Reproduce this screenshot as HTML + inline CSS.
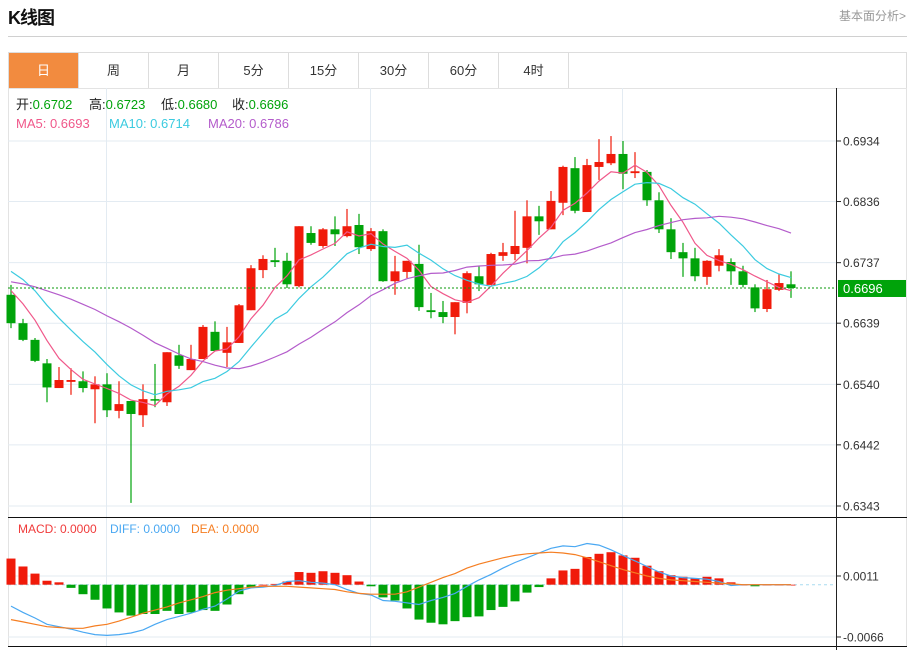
<!DOCTYPE html>
<html><head><meta charset="utf-8">
<style>
html,body{margin:0;padding:0;background:#fff;width:911px;height:650px;overflow:hidden;font-family:"Liberation Sans","Noto Sans CJK SC",sans-serif}
#title{position:absolute;left:8px;top:4px;font-size:18px;font-weight:bold;color:#111;letter-spacing:-1px}
#more{position:absolute;right:5px;top:7px;font-size:12px;color:#999}
#rule{position:absolute;left:8px;top:36px;width:899px;height:1px;background:#d0d0d0}
#tabs{position:absolute;left:8px;top:52px;width:897px;height:35px;border:1px solid #ddd;display:flex}
.tab{width:69px;border-right:1px solid #ddd;text-align:center;line-height:35px;font-size:13px;color:#333}
.tab.on{background:#f28b3f;color:#fff}
svg{position:absolute;left:0;top:0}
</style></head><body>
<div id="title">K线图</div>
<div id="more">基本面分析&gt;</div>
<div id="rule"></div>
<div id="tabs">
<div class="tab on">日</div>
<div class="tab">周</div>
<div class="tab">月</div>
<div class="tab">5分</div>
<div class="tab">15分</div>
<div class="tab">30分</div>
<div class="tab">60分</div>
<div class="tab">4时</div>
</div>
<svg id="chart" width="911" height="650"></svg>
<script>
const openP=[.6685,.6639,.6612,.6574,.6534,.6544,.6545,.6532,.6540,.6497,.6513,.6490,.6516,.6511,.6587,.6563,.6581,.6625,.6591,.6607,.6660,.6725,.6741,.6740,.6699,.6785,.6764,.6791,.6780,.6798,.6759,.6788,.6707,.6722,.6735,.6660,.6657,.6649,.6672,.6715,.6701,.6748,.6751,.6761,.6812,.6791,.6834,.6890,.6819,.6892,.6898,.6913,.6882,.6884,.6838,.6791,.6754,.6744,.6714,.6732,.6738,.6723,.6697,.6662,.6693,.6702];
const highP=[.6701,.6646,.6615,.6581,.6568,.6566,.6561,.6553,.6558,.6545,.6513,.6540,.6573,.6592,.6604,.6604,.6636,.6642,.6633,.6670,.6733,.6749,.6761,.6753,.6796,.6796,.6793,.6812,.6824,.6816,.6793,.6791,.6748,.6740,.6766,.6688,.6675,.6673,.6723,.6732,.6753,.6769,.6821,.6838,.6829,.6853,.6894,.6908,.6905,.6937,.6942,.6934,.6916,.6887,.6851,.6809,.6769,.6761,.6741,.6759,.6744,.6732,.6702,.6709,.6719,.6723];
const lowP=[.6631,.6610,.6576,.6511,.6534,.6523,.6527,.6477,.6487,.6485,.6348,.6471,.6503,.6505,.6565,.6563,.6581,.6594,.6568,.6607,.6660,.6712,.6730,.6696,.6697,.6766,.6761,.6764,.6778,.6751,.6756,.6706,.6685,.6712,.6659,.6647,.6639,.6621,.6655,.6691,.6701,.6740,.6741,.6736,.6782,.6791,.6814,.6817,.6819,.6871,.6895,.6856,.6874,.6829,.6785,.6743,.6714,.6707,.6701,.6723,.6701,.6697,.6657,.6657,.6691,.6680];
const closeP=[.6639,.6612,.6578,.6535,.6547,.6547,.6534,.6540,.6498,.6508,.6492,.6516,.6514,.6592,.6570,.6581,.6633,.6594,.6608,.6668,.6728,.6743,.6738,.6702,.6796,.6769,.6791,.6783,.6796,.6762,.6788,.6707,.6723,.6740,.6665,.6657,.6649,.6673,.6720,.6702,.6751,.6754,.6764,.6812,.6804,.6837,.6892,.6821,.6895,.6900,.6913,.6881,.6885,.6838,.6791,.6754,.6744,.6715,.6740,.6749,.6723,.6701,.6663,.6694,.6704,.6696];
const priorClose=[.6680,.6670,.6665,.6675,.6690,.6700,.6710,.6705,.6695,.6700,.6745,.6760,.6770,.6755,.6740,.6720,.6710,.6700,.6690];
const macdHist=[.0033,.0023,.0014,.0005,.0003,-.0004,-.0012,-.0019,-.0030,-.0035,-.0039,-.0037,-.0037,-.0033,-.0037,-.0035,-.0032,-.0033,-.0025,-.0012,-.0003,0,.0001,.0004,.0016,.0015,.0017,.0015,.0012,.0004,-.0002,-.0016,-.0020,-.0030,-.0044,-.0048,-.0050,-.0046,-.0041,-.0040,-.0032,-.0028,-.0021,-.0010,-.0003,.0008,.0018,.0020,.0035,.0039,.0041,.0037,.0034,.0024,.0017,.0012,.0010,.0008,.0010,.0008,.0003,0,-.0002,0,0,0];
const diffV=[-.0027,-.0035,-.0042,-.0050,-.0053,-.0056,-.0060,-.0063,-.0064,-.0063,-.0061,-.0057,-.0050,-.0044,-.0040,-.0036,-.0031,-.0027,-.0018,-.0008,-.0004,-.0003,-.0001,.0004,.0005,.0003,.0002,0,-.0006,-.0011,-.0013,-.0020,-.0021,-.0023,-.0025,-.0020,-.0016,-.0011,-.0002,.0006,.0013,.0021,.0028,.0034,.0040,.0046,.0049,.0048,.0052,.0050,.0044,.0037,.0030,.0023,.0016,.0011,.0009,.0008,.0007,.0004,-.0001,0,0,0,0,0];
const deaV=[-.0044,-.0047,-.0050,-.0053,-.0054,-.0055,-.0055,-.0052,-.0050,-.0046,-.0041,-.0036,-.0032,-.0028,-.0023,-.0019,-.0015,-.0010,-.0007,-.0005,-.0003,-.0002,-.0002,-.0002,-.0003,-.0004,-.0005,-.0006,-.0009,-.0011,-.0012,-.0012,-.0012,-.0009,-.0003,.0003,.0009,.0014,.0021,.0026,.0030,.0034,.0037,.0039,.0040,.0041,.0040,.0038,.0034,.0029,.0024,.0019,.0015,.0011,.0008,.0006,.0005,.0004,.0003,.0002,.0001,0,0,0,0,0];
const priceTicks=[.6934,.6836,.6737,.6639,.6540,.6442,.6343];
const macdTicks=[.0011,-.0066];
const lastPrice=.6696;

const NS='http://www.w3.org/2000/svg';
const svg=document.getElementById('chart');
function mk(tag,attrs,parent){const e=document.createElementNS(NS,tag);for(const k in attrs)e.setAttribute(k,attrs[k]);(parent||svg).appendChild(e);return e;}
const X0=8,XR=836;
const xOf=i=>11+12*i;
const yP=p=>141+(0.6934-p)*6176;
const yM=v=>584.7-v*7922;
const fmt=v=>v.toFixed(4);

const frame=mk('rect',{x:8.5,y:88.5,width:898,height:558,fill:'none',stroke:'#e3e3e3'});


priceTicks.forEach(t=>{const l=mk('line',{x1:X0,x2:XR,y1:yP(t),y2:yP(t),stroke:'#e3ebf2'});

});
macdTicks.forEach(t=>{const l=mk('line',{x1:X0,x2:XR,y1:yM(t),y2:yM(t),stroke:'#e3ebf2'});

});
[106,370,622].forEach(x=>{const l=mk('line',{x1:x+.5,x2:x+.5,y1:88,y2:647,stroke:'#e3ebf2'});

});
const s1=mk('line',{x1:X0,x2:907,y1:517.5,y2:517.5,stroke:'#111'});


const s2=mk('line',{x1:X0,x2:907,y1:646.5,y2:646.5,stroke:'#111'});


const ax=mk('line',{x1:836.5,x2:836.5,y1:88,y2:650,stroke:'#222'});


priceTicks.forEach(t=>{const y=yP(t);
const tk=mk('line',{x1:837,x2:841,y1:y,y2:y,stroke:'#222'});


const tx=mk('text',{x:843,y:y+4.5,'font-size':12,fill:'#333'});tx.textContent=fmt(t);

});
macdTicks.forEach(t=>{const y=yM(t);
const tk=mk('line',{x1:837,x2:841,y1:y,y2:y,stroke:'#222'});


const tx=mk('text',{x:843,y:y+4.5,'font-size':12,fill:'#333'});tx.textContent=fmt(t);

});

const RED='#f01a0a',GREEN='#00a30a';
for(let i=0;i<openP.length;i++){
 const up=closeP[i]>openP[i];const c=up?RED:GREEN;const x=xOf(i);
 const g=mk('g',{});
 
 
 mk('line',{x1:x,x2:x,y1:yP(highP[i]),y2:yP(lowP[i]),stroke:c,'stroke-width':1.2},g);
 const top=Math.min(yP(openP[i]),yP(closeP[i]));const h=Math.max(1.5,Math.abs(yP(openP[i])-yP(closeP[i])));
 mk('rect',{x:x-4.5,y:top,width:9,height:h,fill:c},g);
}
const all=priorClose.concat(closeP);
function ma(n){return closeP.map((_,i)=>{let s=0;const k=i+priorClose.length;for(let j=k-n+1;j<=k;j++)s+=all[Math.max(j,0)];return s/n;});}
[[5,'#f0588a','ma5-line'],[10,'#3ccbe0','ma10-line'],[20,'#b45ccb','ma20-line']].forEach(([n,col,name])=>{
 const v=ma(n);const p=mk('path',{d:v.map((m,i)=>(i?'L':'M')+xOf(i)+' '+yP(m).toFixed(1)).join(''),fill:'none',stroke:col,'stroke-width':1.2});
 
 
});
const lp=mk('line',{x1:X0,x2:XR,y1:yP(lastPrice),y2:yP(lastPrice),stroke:'#0a9a0a','stroke-dasharray':'2,2'});


const lb=mk('rect',{x:838,y:yP(lastPrice)-8,width:68,height:17,fill:'#00a30a'});


const lt=mk('text',{x:843,y:yP(lastPrice)+5,'font-size':13,fill:'#fff'});lt.textContent=fmt(lastPrice);



const zl=mk('line',{x1:X0,x2:XR,y1:yM(0),y2:yM(0),stroke:'#a8dcf0','stroke-dasharray':'3,3'});


macdHist.forEach((v,i)=>{const y0=yM(0),y1=yM(v);
 const r=mk('rect',{x:xOf(i)-4.5,y:Math.min(y0,y1),width:9,height:Math.max(0.8,Math.abs(y1-y0)),fill:v>=0?RED:GREEN});
 
 });
[[diffV,'#4aa8f2','diff-line'],[deaV,'#f57e22','dea-line']].forEach(([arr,col,name])=>{
 const p=mk('path',{d:arr.map((v,i)=>(i?'L':'M')+xOf(i)+' '+yM(v).toFixed(1)).join(''),fill:'none',stroke:col,'stroke-width':1.2});
 
 
});

function txt(y,parts,size,name){const t=mk('text',{y:y,'font-size':size});
 
 
 parts.forEach(([x,s,c])=>{const a={fill:c};if(x!==null)a.x=x;const sp=mk('tspan',a,t);sp.textContent=s;});}
txt(109,[[16,'开:','#222'],[null,fmt(openP[65]),'#00a30a'],[89,'高:','#222'],[null,fmt(highP[65]),'#00a30a'],[161,'低:','#222'],[null,fmt(lowP[65]),'#00a30a'],[232,'收:','#222'],[null,fmt(closeP[65]),'#00a30a']],13,'ohlc-legend');
txt(128,[[16,'MA5: 0.6693','#f0588a'],[109,'MA10: 0.6714','#3ccbe0'],[208,'MA20: 0.6786','#b45ccb']],13,'ma-legend');
txt(533,[[18,'MACD: 0.0000','#f03a3a'],[110,'DIFF: 0.0000','#4aa8f2'],[191,'DEA: 0.0000','#f57e22']],12,'macd-legend');
</script>
</body></html>
